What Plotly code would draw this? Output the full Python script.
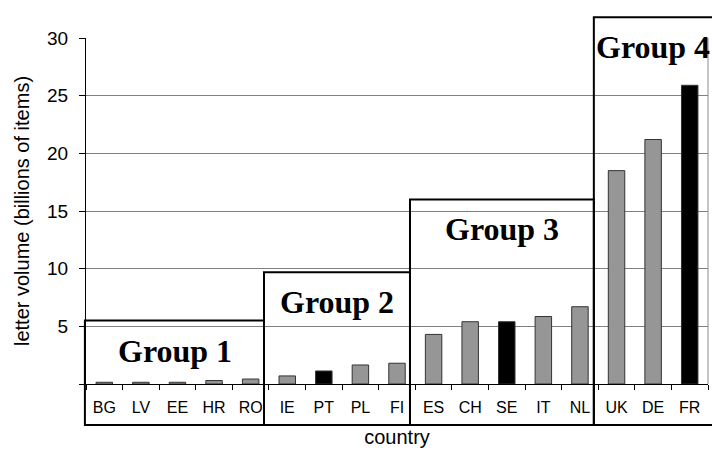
import plotly.graph_objects as go

countries = ["BG", "LV", "EE", "HR", "RO", "IE", "PT", "PL", "FI",
             "ES", "CH", "SE", "IT", "NL", "UK", "DE", "FR"]
volumes = [0.15, 0.15, 0.15, 0.3, 0.43, 0.7, 1.13, 1.65, 1.8,
           4.3, 5.4, 5.4, 5.85, 6.7, 18.5, 21.2, 25.9]
highlighted = ["PT", "SE", "FR"]

group_names = ["Group 1", "Group 2", "Group 3", "Group 4"]
group_left = [-0.53, 4.365, 8.355, 13.38]     # box edges in category units
group_right = [4.365, 8.355, 13.38, 16.75]
group_top = [5.5, 9.7, 16.0, 31.8]            # box tops in axis units
group_label_x = [1.92, 6.36, 10.87, 15.0]     # label centres in category units
group_bottom_px = 41                          # box bottom, px below the x axis

y_ticks = [0, 5, 10, 15, 20, 25, 30]
y_ticktext = ["", "5", "10", "15", "20", "25", "30"]

W, H = 712, 452
ML, MR, MT, MB = 86, 4, 38, 68
xr = [-0.5, len(countries) - 0.5]
yr = [0, 30]
plot_h = H - MT - MB

def xp(v):
    return (v - xr[0]) / (xr[1] - xr[0])

def yp(v):
    return (v - yr[0]) / (yr[1] - yr[0])

colors = ["#000000" if c in highlighted else "#969696" for c in countries]

fig = go.Figure(go.Bar(
    x=countries, y=volumes, width=0.45,
    marker=dict(color=colors, line=dict(color="#333333", width=1)),
))

shapes = []
annotations = []
for name, l, r, t, lx in zip(group_names, group_left, group_right, group_top, group_label_x):
    shapes.append(dict(type="rect", xref="paper", yref="paper",
                       x0=xp(l), x1=xp(r), y0=-group_bottom_px / plot_h, y1=yp(t),
                       line=dict(color="black", width=2), layer="above"))
    annotations.append(dict(xref="paper", yref="paper", x=xp(lx), y=yp(t),
                            xanchor="center", yanchor="middle", yshift=-30, showarrow=False,
                            text="<b>%s</b>" % name,
                            font=dict(family="Liberation Serif", size=32, color="black")))
# plot area right border
shapes.append(dict(type="line", xref="paper", yref="paper", x0=1, x1=1, y0=0, y1=1,
                   line=dict(color="#8c8c8c", width=1), layer="below"))

fig.update_layout(
    width=W, height=H,
    margin=dict(l=ML, r=MR, t=MT, b=MB),
    paper_bgcolor="white", plot_bgcolor="white",
    showlegend=False,
    font=dict(family="Liberation Sans", color="black"),
    shapes=shapes, annotations=annotations,
    xaxis=dict(type="category", range=xr, showgrid=False, automargin=False,
               showline=True, linecolor="black", linewidth=1,
               ticks="outside", tickson="boundaries", ticklen=5, tickcolor="black",
               ticklabelstandoff=9,
               tickfont=dict(size=16), title=dict(text="country", font=dict(size=20), standoff=14)),
    yaxis=dict(range=yr, tickvals=y_ticks, ticktext=y_ticktext, automargin=False,
               showgrid=True, gridcolor="#808080", gridwidth=1, zeroline=False,
               showline=True, linecolor="black", linewidth=1,
               ticks="outside", ticklen=6, tickcolor="black",
               ticklabelstandoff=7,
               tickfont=dict(size=19),
               title=dict(text="letter volume (billions of items)", font=dict(size=20), standoff=12)),
)

fig.write_html("out.html", config={"displayModeBar": False},
               post_script="document.body.style.margin='0px';")
